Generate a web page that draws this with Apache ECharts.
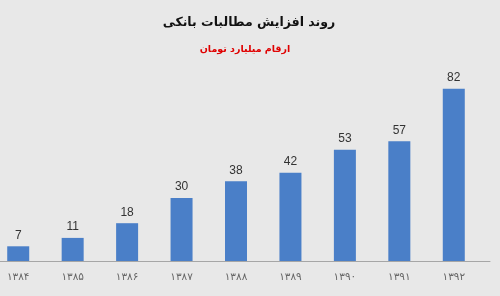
<!DOCTYPE html>
<html><head><meta charset="utf-8">
<script src="https://cdn.jsdelivr.net/npm/echarts@6/dist/echarts.min.js"></script>
<style>html,body{margin:0;padding:0;background:#e8e8e8;overflow:hidden}#c{position:absolute;left:-9px;top:0;width:509px;height:296px}</style>
</head><body><div id="c"></div>
<script>
const categories = ['۱۳۸۴','۱۳۸۵','۱۳۸۶','۱۳۸۷','۱۳۸۸','۱۳۸۹','۱۳۹۰','۱۳۹۱','۱۳۹۲'];
const values = [7, 11, 18, 30, 38, 42, 53, 57, 82];
const titleText = 'روند افزایش مطالبات بانکی';
const subtitleText = 'ارقام میلیارد تومان';

const chart = echarts.init(document.getElementById('c'));
chart.setOption({
  backgroundColor: '#e8e8e8',
  animation: false,
  title: [
    {text: titleText, left: 253, textAlign: 'center', top: 11,
     textStyle: {fontFamily: 'DejaVu Sans', fontSize: 12.5, fontWeight: 'bold', color: '#111'}},
    {text: subtitleText, left: 249, textAlign: 'center', top: 40,
     textStyle: {fontFamily: 'DejaVu Sans', fontSize: 9.5, fontWeight: 'bold', color: '#e00000'}}
  ],
  grid: [
    {left: 0, right: 19, top: 72, bottom: 35, containLabel: false},
    {left: 9, right: 10, top: 72, bottom: 35, containLabel: false}
  ],
  xAxis: [
    {type: 'category', data: categories, gridIndex: 0,
     axisLine: {show: false}, axisTick: {show: false},
     axisLabel: {margin: 11, fontFamily: 'DejaVu Sans', fontSize: 10.5, color: '#666'}},
    {type: 'category', data: categories, gridIndex: 1,
     axisLine: {show: true, lineStyle: {color: '#a6a6a6', width: 1}},
     axisTick: {show: false}, axisLabel: {show: false}}
  ],
  yAxis: [
    {type: 'value', min: 0, max: 90, gridIndex: 0, show: false, splitLine: {show: false}},
    {type: 'value', min: 0, max: 90, gridIndex: 1, show: false, splitLine: {show: false}}
  ],
  series: [{
    type: 'bar', data: values, xAxisIndex: 0, yAxisIndex: 0, barWidth: 22,
    itemStyle: {color: '#4a7fc8'},
    label: {show: true, position: 'top', distance: 5,
      fontFamily: 'Liberation Sans', fontSize: 12, color: '#333'}
  }]
});
</script></body></html>
